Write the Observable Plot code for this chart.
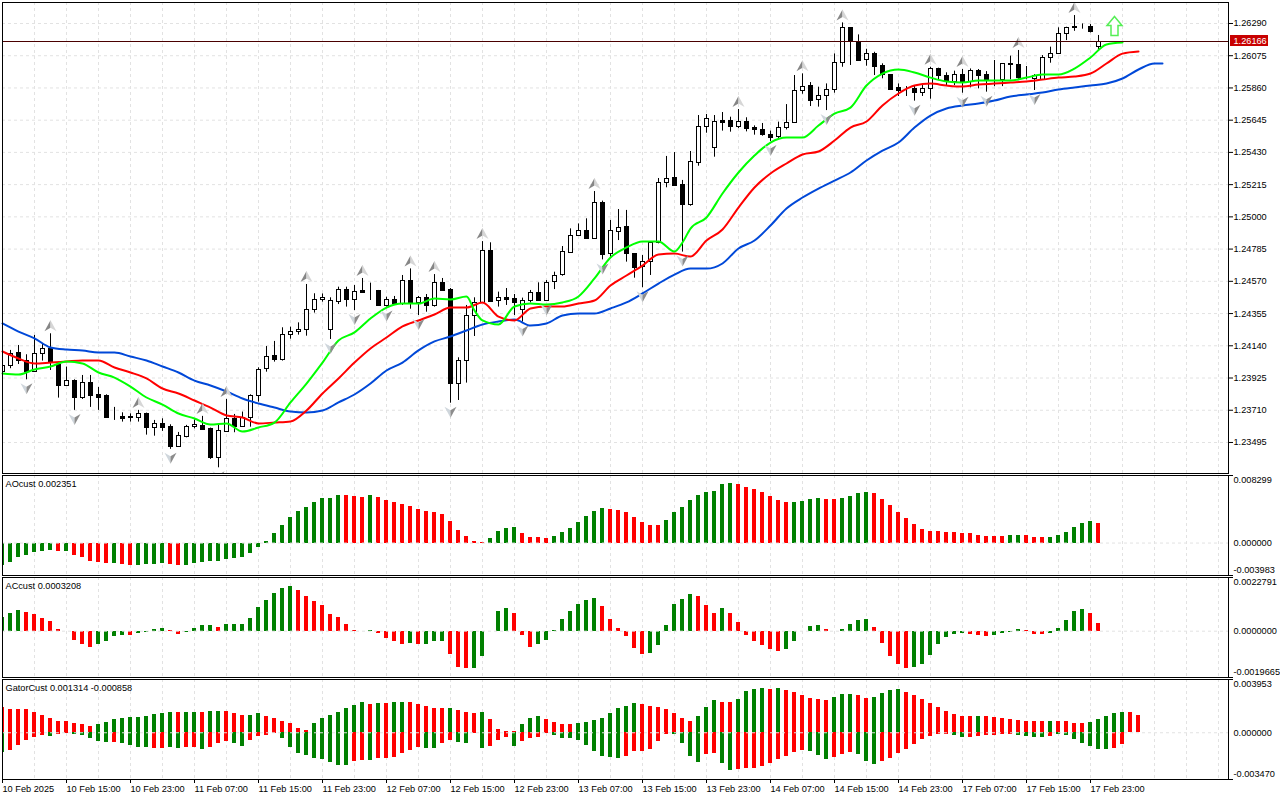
<!DOCTYPE html>
<html><head><meta charset="utf-8">
<script src="https://cdn.jsdelivr.net/npm/d3@7"></script>
<script src="https://cdn.jsdelivr.net/npm/@observablehq/plot@0.6"></script>
<style>html,body{margin:0;padding:0;background:#fff;overflow:hidden}svg{display:block}</style>
</head><body><div id="chart"></div>
<script>
// Prices are in points (1e-5). One row of ten bars per source line.
const open = [
123971,124007,124095,124042,123971,124087,124120,124015,123878,123906,
123795,123895,123815,123809,123666,123669,123669,123664,123686,123597,
123620,123600,123471,123537,123600,123609,123589,123393,123571,123655,
123604,123664,123806,123987,124073,124051,124213,124233,124247,124380,
124446,124246,124438,124513,124451,124506,124506,124506,124411,124446,
124424,124573,124426,124460,124411,124560,124513,123886,124040,124340,
124431,124773,124440,124460,124453,124380,124440,124498,124444,124567,
124618,124764,124878,124907,124853,125094,124754,124905,124934,124754,
124669,124705,124827,125227,125260,125214,125080,125365,125600,125460,
125640,125640,125605,125634,125594,125580,125549,125534,125598,125627,
125841,125874,125781,125807,125847,126027,126261,126165,126047,126087,
126007,125949,125861,125852,125854,125832,125854,125987,125941,125905,
125947,125905,125974,125947,125914,125914,126021,126016,125932,125925,
125918,126061,126087,126221,126270,126270,126270,126136];
const close = [
124007,124091,124042,123971,124087,124120,124029,123878,123906,123793,
123895,123811,123798,123662,123666,123658,123660,123686,123597,123620,
123597,123471,123540,123600,123615,123584,123397,123573,123653,123602,
123664,123806,123980,124071,124049,124213,124233,124247,124380,124447,
124462,124440,124513,124451,124500,124498,124506,124411,124446,124424,
124573,124429,124460,124411,124560,124509,123886,124040,124340,124431,
124773,124438,124460,124446,124431,124440,124498,124444,124560,124611,
124767,124878,124907,124858,125093,124749,124907,124931,124754,124665,
124705,124827,125227,125258,125211,125080,125367,125600,125654,125634,
125632,125605,125634,125592,125580,125552,125532,125594,125627,125841,
125867,125778,125807,125847,126027,126261,126167,126045,126087,126005,
125949,125852,125843,125852,125832,125854,125987,125941,125905,125947,
125905,125974,125945,125918,125914,126021,126014,125932,125932,125945,
126061,126087,126221,126261,126263,126270,126238,126167];
const high = [
124020,124109,124142,124080,124209,124153,124220,124031,123998,123913,
123942,123942,123862,123813,123729,123693,123686,123709,123691,123642,
123653,123613,123562,123609,123646,123669,123591,123620,123782,123682,
123698,123813,123993,124135,124169,124260,124264,124293,124549,124487,
124486,124460,124531,124531,124542,124589,124558,124509,124464,124469,
124609,124653,124469,124482,124615,124589,124522,124060,124409,124460,
124835,124827,124498,124522,124482,124458,124509,124560,124575,124631,
124802,124920,124953,124987,125169,125105,124976,125049,125043,124754,
124742,124831,125256,125403,125429,125243,125436,125676,125683,125676,
125696,125665,125716,125661,125607,125623,125572,125632,125749,125943,
125954,125896,125865,125887,126087,126294,126261,126214,126118,126098,
126021,125949,125887,125869,125876,125876,125998,125992,125961,125972,
125983,125987,125983,125969,126043,126021,126072,126110,126003,125949,
126076,126132,126261,126265,126343,126287,126283,126210];
const low = [
123964,123987,124015,123913,123964,124038,123975,123791,123869,123709,
123782,123729,123709,123658,123642,123631,123631,123631,123544,123537,
123569,123449,123464,123526,123586,123580,123382,123326,123564,123560,
123597,123597,123764,123964,124031,124038,124184,124211,124204,124358,
124431,124182,124415,124398,124375,124495,124442,124409,124398,124415,
124409,124384,124342,124364,124398,124504,123757,123775,123891,124202,
124424,124431,124398,124409,124342,124298,124426,124438,124438,124515,
124604,124760,124871,124856,124849,124713,124731,124842,124698,124591,
124527,124609,124820,125194,125203,124765,125071,125338,125558,125398,
125572,125565,125589,125567,125545,125538,125503,125516,125580,125625,
125818,125736,125732,125709,125825,125998,126010,126038,126005,125943,
125921,125843,125803,125803,125772,125803,125785,125909,125876,125876,
125825,125861,125854,125832,125869,125869,125914,125909,125914,125843,
125914,126025,126083,126176,126238,126252,126227,126114];

const blueBars = d3.range(0, 145, 2).concat(145);
const blueLine = [
124289,124235,124189,124129,124115,124109,124095,124095,124068,124042,
124002,123962,123908,123875,123835,123788,123755,123728,123702,123695,
123708,123762,123815,123888,123975,124028,124109,124169,124202,124242,
124282,124302,124315,124275,124289,124342,124355,124355,124389,124429,
124489,124555,124615,124655,124655,124689,124789,124842,124942,125056,
125129,125189,125242,125296,125376,125442,125496,125596,125676,125723,
125743,125756,125776,125803,125816,125829,125849,125863,125876,125889,
125923,125983,126023,126023];
const redBars = d3.range(0, 143, 2);
const redLine = [
124102,124055,124022,124028,124035,124042,124042,123995,123962,123922,
123855,123822,123775,123728,123675,123662,123622,123628,123635,123708,
123822,123922,124028,124122,124195,124269,124309,124349,124395,124395,
124429,124335,124309,124389,124402,124402,124422,124442,124542,124609,
124675,124749,124755,124735,124842,124916,125062,125196,125289,125356,
125416,125436,125509,125596,125636,125743,125823,125876,125889,125876,
125869,125883,125889,125896,125903,125916,125929,125936,125956,126023,
126089,126103];
const greenBars = d3.sort(d3.range(0, 141, 2).concat([59, 85]));
const greenLine = [
123955,123948,123982,124002,124035,124022,123962,123928,123868,123795,
123748,123688,123655,123615,123622,123568,123595,123628,123762,123888,
124028,124175,124229,124322,124395,124422,124422,124455,124449,124469,
124375,124309,124282,124402,124422,124415,124429,124469,124589,124729,
124796,124836,124836,124769,124829,124922,124996,125156,125296,125409,
125496,125529,125529,125609,125689,125729,125876,125956,125983,125963,
125929,125903,125896,125909,125909,125909,125929,125949,125949,125989,
126063,126150,126163];

const fractalUp = [6,17,25,28,38,45,51,54,60,74,92,100,105,116,120,127,134];
const fractalDown = [3,9,21,27,41,44,48,52,56,65,68,75,80,85,96,103,114,120,123,129];
const signalBar = [139];
const signalPrice = [126270];
const lastPrice = 126166;

const priceTicks = [1.26290,1.26075,1.25860,1.25645,1.25430,1.25215,1.25000,1.24785,1.24570,1.24355,1.24140,1.23925,1.23710,1.23495];
const gridBars = d3.range(4, 153, 4);
const dateBars = d3.range(0, 137, 8);
const dateLabels = ["10 Feb 2025","10 Feb 15:00","10 Feb 23:00","11 Feb 07:00","11 Feb 15:00","11 Feb 23:00","12 Feb 07:00","12 Feb 15:00","12 Feb 23:00","13 Feb 07:00","13 Feb 15:00","13 Feb 23:00","14 Feb 07:00","14 Feb 15:00","14 Feb 23:00","17 Feb 07:00","17 Feb 15:00","17 Feb 23:00"];

// AO in 1e-6
const aoValues = [
-2747,-2419,-1804,-1558,-1189,-1066,-943,-1066,-1066,-1558,
-1804,-2296,-2419,-2542,-2542,-2665,-2788,-2747,-2665,-2665,
-2542,-2665,-2788,-2788,-2542,-2419,-2296,-2296,-2050,-1927,
-1804,-1312,-574,164,1148,2132,3116,3854,4346,4961,
5453,5453,5822,5822,5699,5576,5822,5576,5207,4961,
4715,4469,4100,3854,3731,3485,2624,1517,779,164,
40,533,1394,1763,1886,1148,656,656,533,779,
1271,1763,2501,3239,3854,4223,4100,3977,3731,3116,
2501,2132,2132,2747,3731,4346,5207,5822,6191,6314,
7175,7298,7175,6806,6560,6191,5699,5207,4961,4961,
5084,5330,5453,5330,5330,5453,5699,6068,6191,6068,
5330,4592,3731,2993,2255,1640,1394,1394,1271,1271,
1148,1148,902,779,779,779,902,902,902,656,
656,656,902,1271,1886,2378,2624,2351];
const aoColors = ["GGGGGGGRGR","RRRRGRRGGG","GRRGGGGGGG","GGGGGGGGGG","GGGRRRGRRR","RRRRRRRRRR","RGGGGRRRRG","GGGGGGRRRR","RRRGGGGGGG","GGRRRRRRRG","GGGRRGGGGR","RRRRRRRRRR","RRRRRRGGRR","RGGGGGGR"].join("");

// AC in 1e-7
const acValues = [
5943,7641,8915,8066,7217,5519,4245,849,-283,-3821,
-5519,-6792,-5519,-4245,-2123,-1698,-1698,-849,-425,849,
1274,425,-1274,-425,1274,2547,2547,1698,2972,2972,
2972,5519,10188,13160,16131,18254,19103,17405,14858,12735,
11037,7217,5943,2972,425,-283,425,-849,-2972,-4245,
-5519,-5094,-5519,-5519,-4245,-4245,-9764,-15282,-15707,-15707,
-10613,-142,8490,9764,7641,-1698,-6792,-5519,-3821,425,
5094,8490,11462,13160,14009,10613,5094,1274,-2123,-7217,
-9764,-9339,-5943,2547,11462,13584,15707,14858,11037,7641,
9764,7641,3821,-1698,-4245,-5943,-7641,-8490,-7641,-4245,
-142,2123,2547,849,-142,849,2972,4670,5094,1698,
-5094,-10613,-14009,-15707,-15282,-14009,-10188,-5519,-2547,-1274,
-849,-1274,-1698,-2123,-1698,-849,-425,849,425,-1274,
-1274,-849,1274,4670,8490,9339,7641,3208];
const acColors = ["GGGRRRRRRR","RRGGGGRGGG","GRRGGGGRGG","GGGGGGGRRR","RRRRRRGRRR","RGRGGGRRRG","GGGGRRRGGG","GGGGGRRRRR","RGGGGGGRRR","GRRRRRRRGG","GGGRRGGGGR","RRRRGGGGGG","GRRRGGGGRR","RGGGGGRR"].join("");

// Gator in 1e-6
const gatorUp = [
1855,1707,1707,1707,1484,1262,1039,816,816,668,
594,445,594,742,965,1039,1113,1113,1188,1336,
1410,1484,1484,1484,1484,1484,1559,1559,1559,1410,
1262,1262,1410,1188,1039,816,668,297,148,668,
1039,1262,1484,1781,2004,2227,2078,2152,2152,2227,
2227,2227,2078,1930,1781,1781,1781,1633,1484,1410,
1484,965,223,74,74,594,1039,1188,965,742,
594,594,668,742,891,1039,1410,1781,1930,2152,
2078,1930,1855,1707,1410,1039,816,1188,1855,2375,
2227,2227,2449,3043,3191,3266,3191,3266,3117,2969,
2746,2523,2449,2375,2598,2820,2820,2746,2523,2598,
2895,3117,3191,2969,2746,2449,2152,1855,1559,1336,
1188,1188,1188,1188,1113,1039,965,891,816,816,
816,816,816,816,668,668,742,965,1188,1410,
1484,1484,1314];
const gatorUpColors = ["RRRRRRRRRR","RRGGGGGGGG","GGRGGRGGRR","RGGRRRRRRG","GGGGGGRGRG","GRRRRRGRRR","GRRRRGGGRR","RRGGGGGGGG","RRRRRRRGGG","RRGGGGRGRR","RRRRGGGRRG","GGGRRRRRRR","RRGRRRRRRR","RGRRRRGGGG","GRR"].join("");
const gatorDown = [
-1484,-1336,-965,-594,-371,-223,-297,-148,-74,-148,
-223,-445,-668,-742,-742,-816,-965,-1113,-1113,-1188,
-1188,-1113,-1188,-1113,-1113,-1262,-1113,-816,-668,-816,
-1039,-594,-297,-223,-74,-445,-1113,-1559,-1707,-1930,
-2004,-2227,-2449,-2449,-2152,-2078,-2078,-1930,-1930,-1855,
-1559,-1336,-1113,-1188,-1188,-816,-594,-742,-816,-74,
-1188,-1039,-594,-371,-1039,-668,-445,-371,-74,-223,
-445,-445,-594,-965,-1410,-1781,-1855,-1930,-1781,-1410,
-1410,-1262,-668,-148,-148,-816,-1781,-2227,-1633,-1559,
-2301,-2820,-2746,-2672,-2672,-2523,-2301,-2004,-1781,-1484,
-1336,-1410,-1707,-2004,-1855,-1633,-1484,-1633,-2152,-2375,
-2152,-1930,-1559,-1262,-891,-520,-297,-148,-148,-223,
-371,-371,-297,-223,-223,-148,-148,-223,-297,-371,
-371,-297,-148,-223,-520,-816,-1039,-1262,-1262,-1188,
-858];
const gatorDownColors = ["GRRRRRGRRG","GGGGRGGGGR","RGGRRGRRRG","GRRRRGGGGG","GGGGRRGRRR","RRRGGRRGGR","GRRRGRRRRG","GGGGGGGGRR","RRRRGGGGRR","GGRRRRRRRR","RGGGRRRGGG","RRRRRRRRRG","GRRRRRRGGG","GRGGGGGGGRR"].join("");

const ink = "#000", gridColor = "#e2e2e2", dash = "3,3";
const barGreen = "#008000", barRed = "#ff0000";
const fontFamily = "'Liberation Sans', sans-serif", fontSize = "9.2px";
const xDomain = [0, 153.25];
const bars = d3.range(open.length);
const style = {fontFamily, fontSize, color: ink, background: "#fff", display: "block"};
const colorOf = c => c === "G" ? barGreen : barRed;

// dart icons for fractals, two-tone
const half = (tipY, sideX, sideY, notchY) => ({draw(c){c.moveTo(0,tipY);c.lineTo(sideX,sideY);c.lineTo(0,notchY);c.closePath();}});
const arrowUp = {draw(c){const p=[[0,-10],[7.5,-1],[3.5,-1],[3.5,9],[-3.5,9],[-3.5,-1],[-7.5,-1]];p.forEach(([x,y],i)=>i?c.lineTo(x,y):c.moveTo(x,y));c.closePath();}};

const grids = () => [Plot.ruleX(gridBars, {stroke: gridColor, strokeDasharray: dash})];

function histogram(rows, value, colors, scale) {
  return Plot.rect(rows, {
    x1: i => i - 0.25, x2: i => i + 0.25,
    y1: 0, y2: i => value[i] * scale,
    fill: i => colorOf(colors[i]),
    shapeRendering: "crispEdges", clip: "frame"
  });
}

function sideLabels(domain, format) {
  const [lo, hi] = domain;
  return [
    Plot.axisY({anchor: "right", ticks: [hi, lo], tickSize: 4, tickFormat: () => "", label: null}),
    Plot.text([hi], {x: xDomain[1], y: d => d, text: format, textAnchor: "start", dx: 5, dy: 5, fill: ink}),
    Plot.text([0], {x: xDomain[1], y: d => d, text: format, textAnchor: "start", dx: 5, fill: ink}),
    Plot.text([lo], {x: xDomain[1], y: d => d, text: format, textAnchor: "start", dx: 5, dy: -5, fill: ink})
  ];
}

const title = t => Plot.text([t], {frameAnchor: "top-left", dx: 3, dy: 5, fill: ink, text: d => d});

const fmt5 = d => d.toFixed(5);
const smooth = "monotone-x";
const main = Plot.plot({
  width: 1280, height: 474, marginLeft: 2, marginRight: 52, marginTop: 2, marginBottom: 1, style,
  x: {domain: xDomain, axis: null},
  y: {domain: [1.23288, 1.26430], axis: null},
  marks: [
    ...grids(),
    Plot.ruleY(priceTicks, {stroke: gridColor, strokeDasharray: dash}),
    Plot.ruleX(bars, {x: i => i, y1: i => low[i] / 1e5, y2: i => high[i] / 1e5, stroke: ink, clip: "frame"}),
    Plot.rect(bars, {
      x1: i => i - 0.25, x2: i => i + 0.25,
      y1: i => open[i] / 1e5, y2: i => close[i] / 1e5,
      fill: i => close[i] > open[i] ? "#fff" : ink, stroke: ink,
      dx: 0.5, dy: 0.5, shapeRendering: "crispEdges", clip: "frame"
    }),
    Plot.line(blueBars, {x: i => i, y: (i, k) => blueLine[k] / 1e5, stroke: "#0048d8", strokeWidth: 2, curve: smooth}),
    Plot.line(redBars, {x: i => i, y: (i, k) => redLine[k] / 1e5, stroke: "#ff0000", strokeWidth: 2, curve: smooth}),
    Plot.line(greenBars, {x: i => i, y: (i, k) => greenLine[k] / 1e5, stroke: "#00ff00", strokeWidth: 2, curve: smooth}),
    Plot.dot(fractalUp, {x: i => i, y: i => high[i] / 1e5, dy: -8, r: 5, symbol: half(-5.5, -6, 5.5, 2), fill: "#868686", stroke: "none", clip: "frame"}),
    Plot.dot(fractalUp, {x: i => i, y: i => high[i] / 1e5, dy: -8, r: 5, symbol: half(-5.5, 6, 5.5, 2), fill: "#d6d6d6", stroke: "none", clip: "frame"}),
    Plot.dot(fractalDown, {x: i => i, y: i => low[i] / 1e5, dy: 9, r: 5, symbol: half(5.5, -6, -5.5, -2), fill: "#cfd6dc", stroke: "none", clip: "frame"}),
    Plot.dot(fractalDown, {x: i => i, y: i => low[i] / 1e5, dy: 9, r: 5, symbol: half(5.5, 6, -5.5, -2), fill: "#8c8c8c", stroke: "none", clip: "frame"}),
    Plot.dot(signalBar, {x: i => i, y: (i, k) => signalPrice[k] / 1e5, r: 5, symbol: arrowUp, fill: "#fff", stroke: "#55ee55", strokeWidth: 1.5}),
    Plot.ruleY([lastPrice / 1e5], {stroke: "#4a0000", shapeRendering: "crispEdges", dy: -1}),
    Plot.frame({stroke: ink}),
    Plot.axisY({anchor: "right", ticks: priceTicks, tickSize: 4, tickPadding: 1, tickFormat: fmt5, label: null}),
    Plot.rect([lastPrice / 1e5], {x1: 153.5, x2: 158.25, y1: d => d - 0.00037, y2: d => d + 0.00037, dy: -1, fill: "#c80000", shapeRendering: "crispEdges"}),
    Plot.text([lastPrice / 1e5], {x: 153.5, y: d => d, text: fmt5, textAnchor: "start", dx: 3, dy: -1, fill: "#fff"})
  ]
});

const aoDomain = [-0.003983, 0.008299];
const ao = Plot.plot({
  width: 1280, height: 102, marginLeft: 2, marginRight: 52, marginTop: 1, marginBottom: 1, style,
  x: {domain: xDomain, axis: null},
  y: {domain: aoDomain, axis: null},
  marks: [
    ...grids(),
    histogram(bars, aoValues, aoColors, 1e-6),
    Plot.ruleY([0], {stroke: gridColor, strokeDasharray: dash}),
    Plot.frame({stroke: ink}),
    ...sideLabels(aoDomain, d => d.toFixed(6)),
    title("AOcust 0.002351")
  ]
});

const acDomain = [-0.0019665, 0.0022791];
const ac = Plot.plot({
  width: 1280, height: 102, marginLeft: 2, marginRight: 52, marginTop: 1, marginBottom: 1, style,
  x: {domain: xDomain, axis: null},
  y: {domain: acDomain, axis: null},
  marks: [
    ...grids(),
    histogram(bars, acValues, acColors, 1e-7),
    Plot.ruleY([0], {stroke: gridColor, strokeDasharray: dash}),
    Plot.frame({stroke: ink}),
    ...sideLabels(acDomain, d => d.toFixed(7)),
    title("ACcust 0.0003208")
  ]
});

const gatorDomain = [-0.003470, 0.003953];
const gator = Plot.plot({
  width: 1280, height: 122, marginLeft: 2, marginRight: 52, marginTop: 1, marginBottom: 21, style,
  x: {domain: xDomain, axis: null},
  y: {domain: gatorDomain, axis: null},
  marks: [
    ...grids(),
    histogram(d3.range(gatorUp.length), gatorUp, gatorUpColors, 1e-6),
    histogram(d3.range(gatorDown.length), gatorDown, gatorDownColors, 1e-6),
    Plot.ruleY([0], {stroke: gridColor, strokeDasharray: dash}),
    Plot.frame({stroke: ink}),
    ...sideLabels(gatorDomain, d => d.toFixed(6)),
    Plot.axisX({anchor: "bottom", ticks: dateBars, tickSize: 4, tickPadding: 2, textAnchor: "start", label: null,
      tickFormat: d => dateLabels[dateBars.indexOf(d)]}),
    title("GatorCust 0.001314 -0.000858")
  ]
});

document.getElementById("chart").append(main, ao, ac, gator);
</script></body></html>
